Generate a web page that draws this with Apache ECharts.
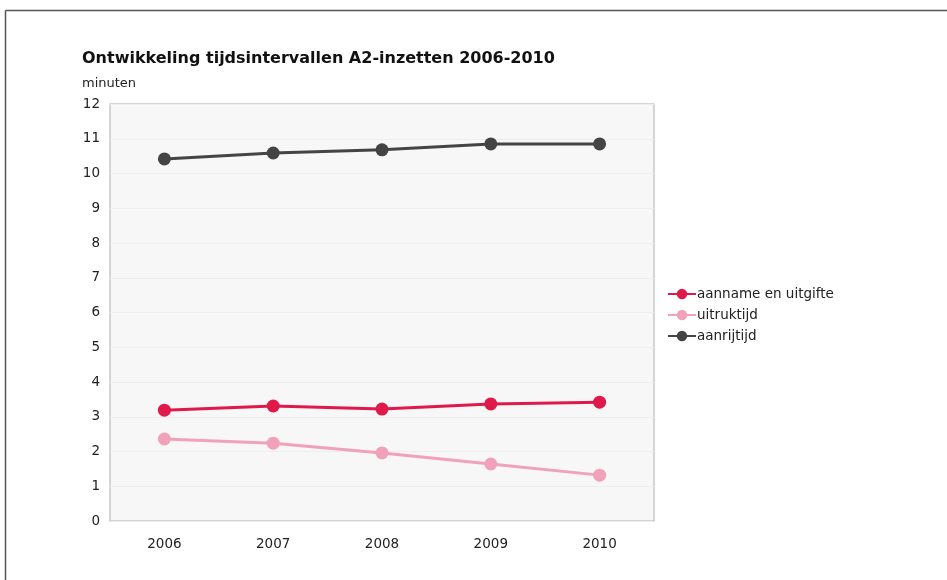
<!DOCTYPE html>
<html>
<head>
<meta charset="utf-8">
<script src="https://cdn.jsdelivr.net/npm/echarts@6/dist/echarts.min.js"></script>
<style>
  html, body { margin: 0; padding: 0; background: #fff; }
  #chart { width: 947px; height: 580px; }
</style>
</head>
<body>
<div id="chart"></div>
<script>
// Jaren op de x-as
const years = ['2006', '2007', '2008', '2009', '2010'];

// Gemiddelde tijdsintervallen in minuten
const aannameEnUitgifte = [3.19, 3.31, 3.22, 3.37, 3.42];
const uitruktijd = [2.36, 2.24, 1.96, 1.64, 1.32];
const aanrijtijd = [10.42, 10.59, 10.68, 10.85, 10.85];

const seriesNames = ['aanname en uitgifte', 'uitruktijd', 'aanrijtijd'];
const seriesData = [aannameEnUitgifte, uitruktijd, aanrijtijd];
const seriesColors = ['#e0194b', '#f2a1ba', '#444444'];

const font = 'DejaVu Sans, Verdana, sans-serif';

const chart = echarts.init(document.getElementById('chart'), null, { renderer: 'canvas' });

chart.setOption({
  animation: false,
  backgroundColor: '#ffffff',
  textStyle: { fontFamily: font },
  title: [
    {
      text: 'Ontwikkeling tijdsintervallen A2-inzetten 2006-2010',
      left: 77, top: 46,
      textStyle: { fontSize: 16, fontWeight: 'bold', color: '#111', fontFamily: font }
    },
    {
      text: 'minuten',
      left: 77, top: 72,
      textStyle: { fontSize: 13, fontWeight: 'normal', color: '#222', fontFamily: font }
    }
  ],
  graphic: [
    // kader linksboven
    { type: 'line', shape: { x1: 5.5, y1: 10.5, x2: 947, y2: 10.5 }, style: { stroke: '#555', lineWidth: 1.5 } },
    { type: 'line', shape: { x1: 5.5, y1: 10.5, x2: 5.5, y2: 580 }, style: { stroke: '#555', lineWidth: 1.5 } }
  ],
  legend: {
    orient: 'vertical',
    left: 662, top: 282,
    itemWidth: 28, itemHeight: 13, itemGap: 7,
    data: seriesNames,
    textStyle: { fontSize: 13.5, color: '#222', fontFamily: font, padding: [0, 0, 0, -4] }
  },
  grid: {
    left: 110, right: 293, top: 104, bottom: 59,
    show: true,
    backgroundColor: '#f7f7f7',
    borderColor: '#c8c8c8',
    borderWidth: 1.5
  },
  xAxis: {
    type: 'category',
    data: years,
    boundaryGap: true,
    axisLine: { show: false },
    axisTick: { show: false },
    axisLabel: { margin: 16, fontSize: 13.5, color: '#222', fontFamily: font }
  },
  yAxis: {
    type: 'value',
    min: 0, max: 12, interval: 1,
    axisLine: { show: false },
    axisTick: { show: false },
    axisLabel: { margin: 10, fontSize: 13.5, color: '#222', fontFamily: font },
    splitLine: { show: true, lineStyle: { color: '#eeeeee', width: 1 } }
  },
  series: seriesNames.map((name, i) => ({
    name: name,
    type: 'line',
    data: seriesData[i],
    symbol: 'circle',
    symbolSize: 13,
    color: seriesColors[i],
    lineStyle: { width: 3, color: seriesColors[i] },
    itemStyle: { color: seriesColors[i] }
  }))
});
</script>
</body>
</html>
